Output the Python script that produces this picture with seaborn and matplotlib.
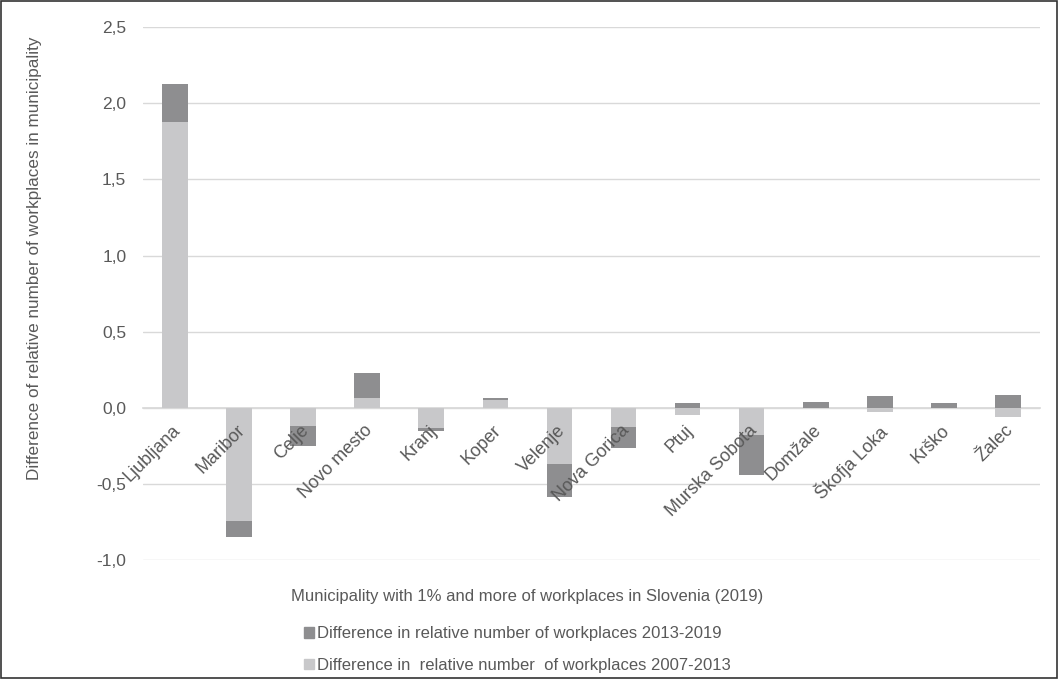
import numpy as np
import pandas as pd
import seaborn as sns
import matplotlib.pyplot as plt
from matplotlib.patches import Patch, Rectangle
from matplotlib.ticker import FuncFormatter
from matplotlib.transforms import ScaledTranslation

# Data
municipalities = ["Ljubljana", "Maribor", "Celje", "Novo mesto", "Kranj", "Koper",
                  "Velenje", "Nova Gorica", "Ptuj", "Murska Sobota", "Domžale",
                  "Škofja Loka", "Krško", "Žalec"]
diff_2007_2013 = [1.88, -0.74, -0.12, 0.063, -0.13, 0.055,
                  -0.37, -0.125, -0.045, -0.18, 0.0,
                  -0.025, 0.0, -0.06]
diff_2013_2019 = [0.25, -0.105, -0.13, 0.165, -0.02, 0.01,
                  -0.215, -0.14, 0.033, -0.26, 0.04,
                  0.079, 0.035, 0.085]

label_2013_2019 = "Difference in relative number of workplaces 2013-2019"
label_2007_2013 = "Difference in  relative number  of workplaces 2007-2013"

DARK = "#8e8e90"
LIGHT = "#c8c8ca"
TEXT = "#595959"
GRID = "#d9d9d9"

df = pd.DataFrame({"municipality": municipalities,
                   "early": diff_2007_2013,
                   "late": diff_2013_2019})
# Excel-style stacking: same sign -> stack on top, opposite sign -> start from zero
same_sign = np.sign(df["early"]) == np.sign(df["late"])
df["late_top"] = np.where(same_sign, df["early"] + df["late"], df["late"])

sns.set_theme(style="white")
plt.rcParams["font.family"] = ["Liberation Sans", "DejaVu Sans"]

fig = plt.figure(figsize=(10.59, 6.79), dpi=100)
ax = fig.add_axes([0.135, 0.175, 0.847, 0.785])

sns.barplot(data=df, x="municipality", y="late_top", color=DARK, saturation=1,
            width=0.4, linewidth=0, ax=ax, zorder=3)
sns.barplot(data=df, x="municipality", y="early", color=LIGHT, saturation=1,
            width=0.4, linewidth=0, ax=ax, zorder=4)

ax.set_ylim(-1.0, 2.5)
ax.set_xlim(-0.5, len(municipalities) - 0.5)
ax.set_yticks(np.arange(-1.0, 2.51, 0.5))
ax.yaxis.set_major_formatter(FuncFormatter(lambda v, p: f"{v:.1f}".replace(".", ",")))
ax.grid(axis="y", color=GRID, linewidth=1, zorder=0)
ax.grid(axis="x", visible=False)

for s in ["top", "right", "left"]:
    ax.spines[s].set_visible(False)
ax.spines["bottom"].set_position(("data", 0))
ax.spines["bottom"].set_color(GRID)
ax.spines["bottom"].set_zorder(2)
# category labels sit on top of the bars, as in the original
ax.xaxis.set_zorder(6)

ax.tick_params(axis="both", length=0, colors=TEXT)
ax.tick_params(axis="y", pad=12, labelsize=12.5)
ax.tick_params(axis="x", pad=10, labelsize=13)
shift = ScaledTranslation(-3 / 100, 0, fig.dpi_scale_trans)
for lab in ax.get_xticklabels():
    lab.set_rotation(45)
    lab.set_ha("right")
    lab.set_va("top")
    lab.set_rotation_mode("anchor")
    lab.set_transform(lab.get_transform() + shift)

ax.set_xlabel("")
ax.set_ylabel("")
fig.text(0.033, 0.619, "Difference of relative number of workplaces in municipality",
         rotation=90, ha="center", va="center", fontsize=12.3, color=TEXT)
fig.text(0.498, 0.122, "Municipality with 1% and more of workplaces in Slovenia (2019)",
         ha="center", va="center", fontsize=12, color=TEXT)

handles = [Patch(color=DARK, label=label_2013_2019),
           Patch(color=LIGHT, label=label_2007_2013)]
fig.legend(handles=handles, loc="upper left", bbox_to_anchor=(0.279, 0.09),
           frameon=False, fontsize=12, labelcolor=TEXT, handlelength=0.6,
           handleheight=0.6, handletextpad=0.2, labelspacing=1.0, borderpad=0)

fig.patches.append(Rectangle((0.001, 0.001), 0.997, 0.997, transform=fig.transFigure,
                             fill=False, edgecolor="#333333", linewidth=1.2))

fig.savefig("out.png", dpi=100)
